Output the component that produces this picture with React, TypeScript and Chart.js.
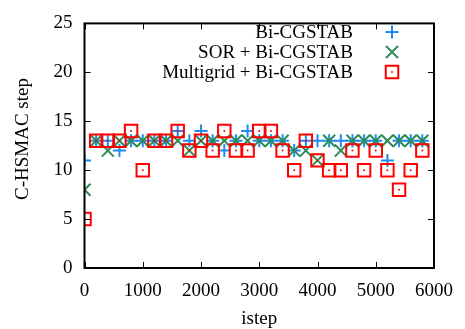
import React, { useEffect, useRef } from 'react';
import { Chart, registerables } from 'chart.js';

Chart.register(...registerables);

// ---- data ----
const istep = [0, 200, 400, 600, 800, 1000, 1200, 1400, 1600, 1800, 2000, 2200, 2400, 2600, 2800, 3000, 3200, 3400, 3600, 3800, 4000, 4200, 4400, 4600, 4800, 5000, 5200, 5400, 5600, 5800];
const biCgstab = [11, 13, 13, 12, 13, 13, 13, 13, 14, 13, 14, 13, 12, 13, 14, 13, 13, 13, 12, 13, 13, 13, 13, 13, 13, 13, 11, 13, 13, 13];
const sorBiCgstab = [8, 13, 12, 13, 13, 13, 13, 13, 13, 12, 13, 13, 13, 13, 13, 13, 13, 13, 12, 12, 11, 13, 12, 13, 13, 13, 13, 13, 13, 13];
const multigridBiCgstab = [5, 13, 13, 13, 14, 10, 13, 13, 14, 12, 13, 12, 14, 12, 12, 14, 14, 12, 10, 13, 11, 10, 10, 12, 10, 12, 10, 8, 10, 12];
const xTicks = [0, 1000, 2000, 3000, 4000, 5000, 6000];
const yTicks = [0, 5, 10, 15, 20, 25];
const seriesLabels = ['Bi-CGSTAB', 'SOR + Bi-CGSTAB', 'Multigrid + Bi-CGSTAB'];
const xTitle = 'istep';
const yTitle = 'C-HSMAC step';

const BLUE = '#1e8cf0';
const GREEN = '#2e8b57';
const RED = '#ff0000';
const FONT_FAMILY = '"Liberation Serif", "Times New Roman", serif';
const FONT_SIZE = 19;

function drawSymbol(ctx: CanvasRenderingContext2D, kind: number, x: number, y: number) {
  ctx.save();
  ctx.lineWidth = 2;
  if (kind === 0) {
    ctx.strokeStyle = BLUE;
    ctx.beginPath();
    ctx.moveTo(x - 6.5, y); ctx.lineTo(x + 6.5, y);
    ctx.moveTo(x, y - 6.5); ctx.lineTo(x, y + 6.5);
    ctx.stroke();
  } else if (kind === 1) {
    ctx.strokeStyle = GREEN;
    ctx.beginPath();
    ctx.moveTo(x - 6, y - 6); ctx.lineTo(x + 6, y + 6);
    ctx.moveTo(x - 6, y + 6); ctx.lineTo(x + 6, y - 6);
    ctx.stroke();
  } else {
    ctx.strokeStyle = RED;
    ctx.strokeRect(x - 6.25, y - 6.25, 12.5, 12.5);
    ctx.fillStyle = RED;
    ctx.beginPath();
    ctx.arc(x, y, 1, 0, Math.PI * 2);
    ctx.fill();
  }
  ctx.restore();
}

const framePlugin = {
  id: 'gnuplotFrame',
  afterDraw(chart: any) {
    const ctx: CanvasRenderingContext2D = chart.ctx;
    const { left, right, top, bottom } = chart.chartArea;
    const xs = chart.scales.x;
    const ys = chart.scales.y;
    ctx.save();
    ctx.strokeStyle = '#000';
    ctx.lineWidth = 2;
    ctx.strokeRect(left, top, right - left, bottom - top);
    ctx.lineWidth = 1;
    ctx.beginPath();
    const tl = 6;
    xTicks.forEach((v) => {
      const px = Math.round(xs.getPixelForValue(v)) + 0.5;
      ctx.moveTo(px, bottom); ctx.lineTo(px, bottom - tl);
      ctx.moveTo(px, top); ctx.lineTo(px, top + tl);
    });
    yTicks.forEach((v) => {
      const py = Math.round(ys.getPixelForValue(v)) + 0.5;
      ctx.moveTo(left, py); ctx.lineTo(left + tl, py);
      ctx.moveTo(right, py); ctx.lineTo(right - tl, py);
    });
    ctx.stroke();

    // axis titles
    ctx.fillStyle = '#000';
    ctx.font = `${FONT_SIZE}px ${FONT_FAMILY}`;
    ctx.textAlign = 'center';
    ctx.textBaseline = 'alphabetic';
    ctx.fillText(xTitle, (left + right) / 2, 324);
    ctx.save();
    ctx.translate(28, 139);
    ctx.rotate(-Math.PI / 2);
    ctx.fillText(yTitle, 0, 0);
    ctx.restore();

    // legend (gnuplot style: text right-aligned, symbol after)
    ctx.textAlign = 'right';
    const rows = [32, 52, 72];
    seriesLabels.forEach((lab, i) => {
      ctx.fillStyle = '#000';
      ctx.fillText(lab, 353, rows[i] + 6);
      drawSymbol(ctx, i, 392, rows[i]);
    });
    ctx.restore();
  },
};

export default function App() {
  const canvasRef = useRef<HTMLCanvasElement | null>(null);

  useEffect(() => {
    if (!canvasRef.current) return;
    const toPts = (ys: number[]) => istep.map((x, i) => ({ x, y: ys[i] }));
    const chart = new Chart(canvasRef.current, {
      type: 'scatter',
      data: {
        datasets: [
          {
            label: seriesLabels[0],
            data: toPts(biCgstab),
            pointStyle: 'cross',
            radius: 6.5,
            borderColor: BLUE,
            backgroundColor: BLUE,
            borderWidth: 2,
            order: 3,
          },
          {
            label: seriesLabels[1],
            data: toPts(sorBiCgstab),
            pointStyle: 'crossRot',
            radius: 8.5,
            borderColor: GREEN,
            backgroundColor: GREEN,
            borderWidth: 2,
            order: 2,
          },
          {
            label: seriesLabels[2],
            data: toPts(multigridBiCgstab),
            pointStyle: 'rect',
            radius: 8.8,
            borderColor: RED,
            backgroundColor: 'rgba(0,0,0,0)',
            borderWidth: 2,
            order: 1,
          },
          {
            label: 'center',
            data: toPts(multigridBiCgstab),
            pointStyle: 'circle',
            radius: 1,
            borderColor: RED,
            backgroundColor: RED,
            borderWidth: 0,
            order: 0,
          },
        ],
      },
      options: {
        animation: false,
        responsive: false,
        devicePixelRatio: 1,
        events: [],
        layout: { padding: { top: 17, right: 22, bottom: 0, left: 0 } },
        plugins: {
          legend: { display: false },
          tooltip: { enabled: false },
        },
        scales: {
          x: {
            type: 'linear',
            min: 0,
            max: 6000,
            afterBuildTicks: (s: any) => { s.ticks = xTicks.map((v) => ({ value: v })); },
            afterFit: (s: any) => { s.height = 61; },
            border: { display: false },
            grid: { display: false, drawTicks: false },
            ticks: {
              color: '#000',
              padding: 12,
              maxRotation: 0,
              callback: (v: any) => String(v),
              font: { family: FONT_FAMILY, size: FONT_SIZE },
            },
          },
          y: {
            type: 'linear',
            min: 0,
            max: 25,
            afterBuildTicks: (s: any) => { s.ticks = yTicks.map((v) => ({ value: v })); },
            afterFit: (s: any) => { s.width = 84.5; },
            border: { display: false },
            grid: { display: false, drawTicks: false },
            ticks: {
              color: '#000',
              padding: 12,
              callback: (v: any) => String(v),
              font: { family: FONT_FAMILY, size: FONT_SIZE },
            },
          },
        },
      },
      plugins: [framePlugin],
    } as any);
    return () => chart.destroy();
  }, []);

  return (
    <div style={{ position: 'absolute', left: 0, top: 0, width: 465, height: 329, background: '#fff' }}>
      <canvas ref={canvasRef} width={465} height={329} style={{ width: 465, height: 329 }} />
    </div>
  );
}
